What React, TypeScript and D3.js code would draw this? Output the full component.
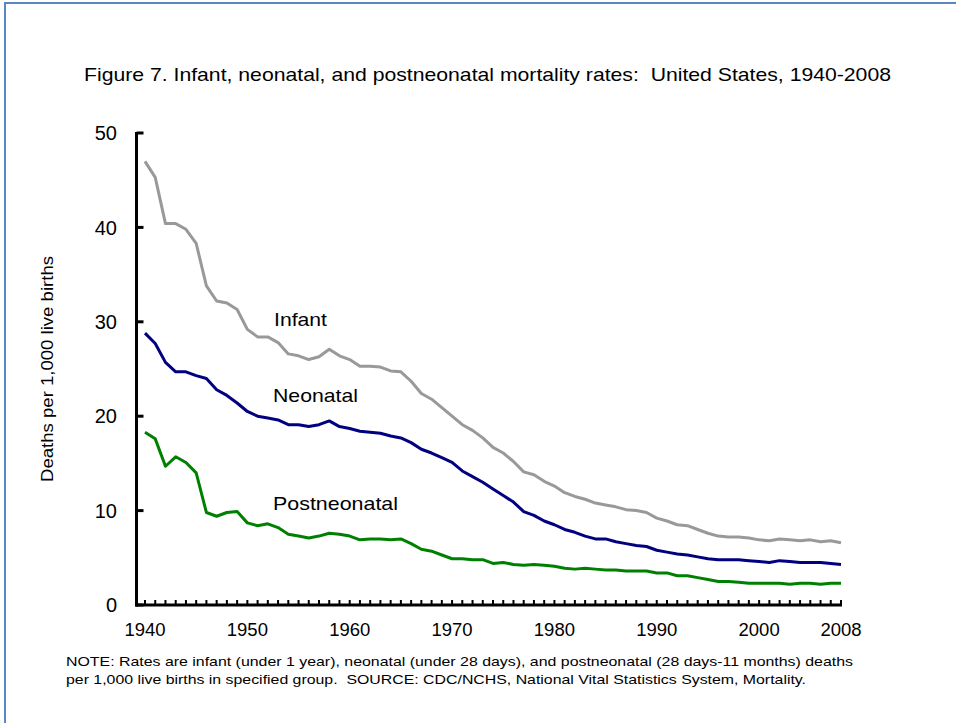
import React from "react";
import * as d3 from "d3";

const years: number[] = d3.range(1940, 2009);
const infant: number[] = [
  47.0, 45.3, 40.4, 40.4, 39.8, 38.3, 33.8, 32.2, 32.0, 31.3,
  29.2, 28.4, 28.4, 27.8, 26.6, 26.4, 26.0, 26.3, 27.1, 26.4,
  26.0, 25.3, 25.3, 25.2, 24.8, 24.7, 23.7, 22.4, 21.8, 20.9,
  20.0, 19.1, 18.5, 17.7, 16.7, 16.1, 15.2, 14.1, 13.8, 13.1,
  12.6, 11.9, 11.5, 11.2, 10.8, 10.6, 10.4, 10.1, 10.0, 9.8,
  9.2, 8.9, 8.5, 8.4, 8.0, 7.6, 7.3, 7.2, 7.2, 7.1,
  6.9, 6.8, 7.0, 6.9, 6.8, 6.9, 6.7, 6.8, 6.6,
];
const neonatal: number[] = [
  28.8, 27.7, 25.7, 24.7, 24.7, 24.3, 24.0, 22.8, 22.2, 21.4,
  20.5, 20.0, 19.8, 19.6, 19.1, 19.1, 18.9, 19.1, 19.5, 18.9,
  18.7, 18.4, 18.3, 18.2, 17.9, 17.7, 17.2, 16.5, 16.1, 15.6,
  15.1, 14.2, 13.6, 13.0, 12.3, 11.6, 10.9, 9.9, 9.5, 8.9,
  8.5, 8.0, 7.7, 7.3, 7.0, 7.0, 6.7, 6.5, 6.3, 6.2,
  5.8, 5.6, 5.4, 5.3, 5.1, 4.9, 4.8, 4.8, 4.8, 4.7,
  4.6, 4.5, 4.7, 4.6, 4.5, 4.5, 4.5, 4.4, 4.3,
];
const postneonatal: number[] = [
  18.3, 17.6, 14.7, 15.7, 15.1, 14.0, 9.8, 9.4, 9.8, 9.9,
  8.7, 8.4, 8.6, 8.2, 7.5, 7.3, 7.1, 7.3, 7.6, 7.5,
  7.3, 6.9, 7.0, 7.0, 6.9, 7.0, 6.5, 5.9, 5.7, 5.3,
  4.9, 4.9, 4.8, 4.8, 4.4, 4.5, 4.3, 4.2, 4.3, 4.2,
  4.1, 3.9, 3.8, 3.9, 3.8, 3.7, 3.7, 3.6, 3.6, 3.6,
  3.4, 3.4, 3.1, 3.1, 2.9, 2.7, 2.5, 2.5, 2.4, 2.3,
  2.3, 2.3, 2.3, 2.2, 2.3, 2.3, 2.2, 2.3, 2.3,
];
const xTickLabels: number[] = [1940, 1950, 1960, 1970, 1980, 1990, 2000, 2008];
const yTicks: number[] = [0, 10, 20, 30, 40, 50];

const seriesNames = ["Infant", "Neonatal", "Postneonatal"];
const seriesValues = [infant, neonatal, postneonatal];
const seriesColors = ["#999999", "#000080", "#008000"];
const seriesLabelPos: [number, number][] = [[274, 326], [273, 402], [273, 510]];
const seriesLabelWidth = [53, 85, 125];

const FONT = "'Liberation Sans', Arial, Helvetica, sans-serif";

export default function App() {
  const W = 956, H = 723;
  const x = d3.scaleLinear().domain([1940, 2008]).range([145, 841]);
  const y = d3.scaleLinear().domain([0, 50]).range([605, 133]);
  const axisX = 136.5;
  const line = d3
    .line<number>()
    .x((_, i) => x(years[i]))
    .y((d) => y(d));

  return (
    <svg
      width={W}
      height={H}
      style={{ position: "absolute", left: 0, top: 0, background: "#fff" }}
      fontFamily={FONT}
    >
      <rect x={0} y={0} width={W} height={H} fill="#fff" />
      <rect x={5} y={3} width={1200} height={1200} fill="none" stroke="#5b86c1" strokeWidth={2} />
      <text x={84} y={81} fontSize={18.5} fill="#000" textLength={807} lengthAdjust="spacingAndGlyphs">
        Figure 7. Infant, neonatal, and postneonatal mortality rates:{"\u00a0\u00a0"}United States, 1940-2008
      </text>

      {/* y axis */}
      <line x1={axisX} x2={axisX} y1={y(50) - 1} y2={y(0) + 1.5} stroke="#000" strokeWidth={3} />
      {yTicks.map((t) => (
        <g key={t}>
          <line x1={axisX} x2={axisX + 7} y1={y(t)} y2={y(t)} stroke="#000" strokeWidth={3} />
          <text x={117} y={y(t)} dy="0.36em" textAnchor="end" fontSize={20} fill="#000">
            {t}
          </text>
        </g>
      ))}
      <text
        transform={`translate(53,${(y(0) + y(50)) / 2}) rotate(-90)`}
        x={-113}
        fontSize={16}
        fill="#000"
        textLength={226}
        lengthAdjust="spacingAndGlyphs"
      >
        Deaths per 1,000 live births
      </text>

      {/* x axis */}
      <line x1={axisX - 1.5} x2={x(2008) + 1} y1={y(0)} y2={y(0)} stroke="#000" strokeWidth={3} />
      {years.map((yr) => (
        <line key={yr} x1={x(yr)} x2={x(yr)} y1={y(0)} y2={y(0) - 5} stroke="#000" strokeWidth={2} />
      ))}
      {xTickLabels.map((yr) => (
        <text key={yr} x={x(yr)} y={636} textAnchor="middle" fontSize={18.5} fill="#000">
          {yr}
        </text>
      ))}

      {/* series */}
      {seriesValues.map((vals, i) => (
        <path
          key={seriesNames[i]}
          d={line(vals) || ""}
          fill="none"
          stroke={seriesColors[i]}
          strokeWidth={3}
          strokeLinejoin="round"
        />
      ))}
      {seriesNames.map((n, i) => (
        <text
          key={n}
          x={seriesLabelPos[i][0]}
          y={seriesLabelPos[i][1]}
          fontSize={19}
          fill="#000"
          textLength={seriesLabelWidth[i]}
          lengthAdjust="spacingAndGlyphs"
        >
          {n}
        </text>
      ))}

      {/* note */}
      <text x={66} y={666} fontSize={13.5} fill="#000" textLength={787} lengthAdjust="spacingAndGlyphs">
        NOTE: Rates are infant (under 1 year), neonatal (under 28 days), and postneonatal (28 days-11 months) deaths
      </text>
      <text x={66} y={684} fontSize={13.5} fill="#000" textLength={740} lengthAdjust="spacingAndGlyphs">
        per 1,000 live births in specified group.{"\u00a0\u00a0"}SOURCE: CDC/NCHS, National Vital Statistics System, Mortality.
      </text>
    </svg>
  );
}
